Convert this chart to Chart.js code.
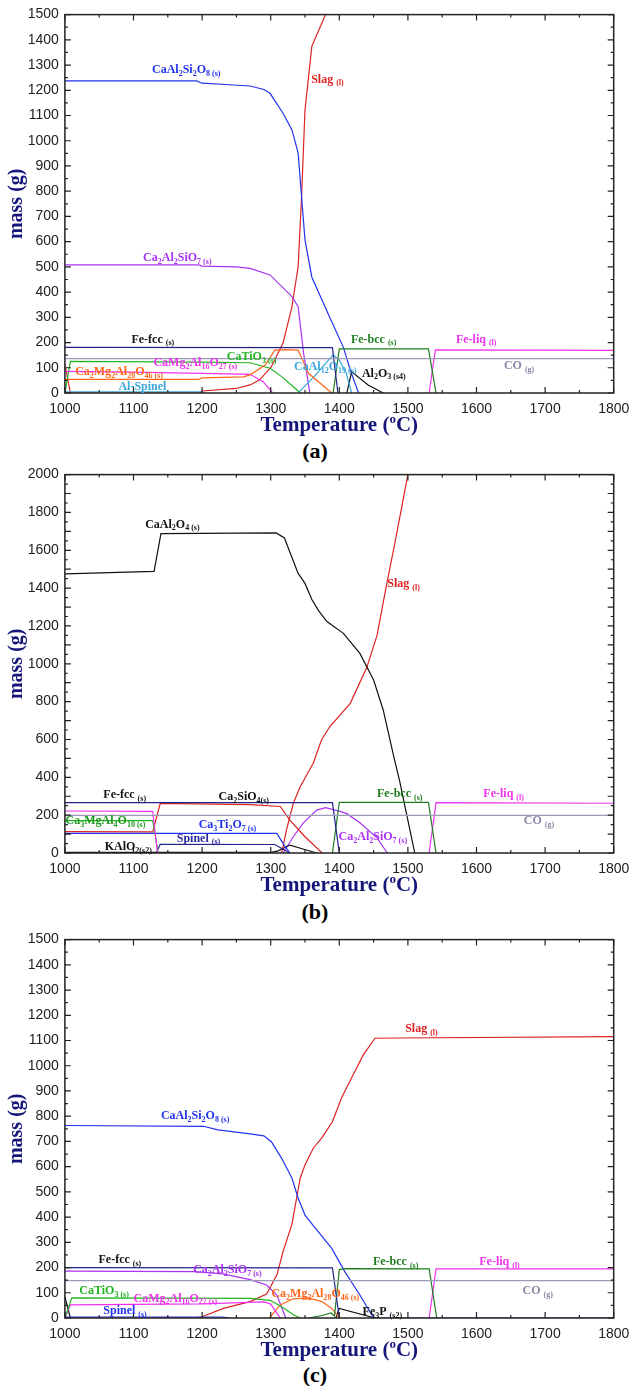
<!DOCTYPE html>
<html lang="en">
<head>
  <meta charset="UTF-8">
  <title>Phase mass vs temperature</title>
  <script src="https://cdn.jsdelivr.net/npm/chart.js"></script>
  <style>
    body {
      margin: 0;
      background: #fff;
      width: 630px;
      height: 1386px;
      position: relative;
      overflow: hidden;
    }
    .panel { position: absolute; left: 0; width: 630px; height: 436px; }
    .tag {
      position: absolute;
      left: 0;
      width: 630px;
      text-align: center;
      font: bold 22px "Liberation Serif", "Times New Roman", serif;
      color: #000;
    }
  </style>
</head>
<body>
  <div class="panel" style="top:0"><canvas id="chartA" width="630" height="436"></canvas></div>
  <div class="tag" style="top:438px">(a)</div>
  <div class="panel" style="top:460px"><canvas id="chartB" width="630" height="436"></canvas></div>
  <div class="tag" style="top:899px">(b)</div>
  <div class="panel" style="top:925px"><canvas id="chartC" width="630" height="436"></canvas></div>
  <div class="tag" style="top:1362px">(c)</div>

  <script>
    // temperature axis shared by all three panels
    const tempTicks = [1000, 1100, 1200, 1300, 1400, 1500, 1600, 1700, 1800];

    // ---- panel (a): [T (oC), mass (g)]
    const aCaAl2Si2O8 = [[1000,1237],[1192,1237],[1200,1228],[1240,1222],[1270,1217],[1290,1203],[1299,1188],[1318,1109],[1331,1043],[1340,951],[1350,606],[1360,459],[1386,300],[1406,181],[1416,91],[1428,0]];
    const aSlag = [[1000,115],[1008,0],[1195,0],[1200,8],[1250,18],[1270,32],[1284,52],[1301,104],[1318,198],[1331,342],[1340,501],[1345,778],[1350,1122],[1360,1375],[1380,1500],[1390,1560]];
    const aCa2Al2SiO7 = [[1000,508],[1195,508],[1200,503],[1250,500],[1270,494],[1299,468],[1331,382],[1340,342],[1348,157],[1357,0]];
    const aCaMg2Al16O27 = [[1000,86],[1100,83],[1200,78],[1270,74],[1289,45],[1303,0]];
    const aCa2Mg2Al28O46 = [[1000,54],[1195,54],[1200,60],[1260,64],[1270,72],[1292,111],[1306,170],[1321,172],[1340,170],[1355,78],[1389,0]];
    const aCaTiO3 = [[1000,0],[1008,125],[1200,122],[1270,120],[1299,98],[1316,65],[1333,25],[1343,0]];
    const aFeFcc = [[1000,181],[1390,180],[1398,0]];
    const aFeBcc = [[1391,0],[1400,175],[1530,175],[1541,0]];
    const aFeLiq = [[1531,0],[1540,171],[1800,169]];
    const aCO = [[1000,136],[1800,136]];
    const aCaAl12O19 = [[1340,0],[1365,70],[1391,151],[1400,130],[1410,80],[1418,0]];
    const aAl2O3 = [[1411,0],[1418,84],[1442,32],[1464,0]];
    const aAlSpinel = [[1000,5],[1198,5],[1203,0]];

    // ---- panel (b)
    const bCaAl2O4 = [[1000,1475],[1130,1488],[1140,1688],[1308,1692],[1320,1665],[1340,1478],[1350,1425],[1360,1340],[1370,1280],[1382,1223],[1406,1161],[1430,1055],[1450,914],[1464,756],[1480,500],[1488,380],[1510,0]];
    const bSlag = [[1316,0],[1323,122],[1333,263],[1343,350],[1362,474],[1374,597],[1386,667],[1416,791],[1440,980],[1455,1150],[1469,1420],[1480,1620],[1490,1810],[1500,2000]];
    const bCa2SiO4 = [[1000,113],[1128,112],[1139,262],[1270,256],[1314,246],[1328,174],[1350,86],[1375,0]];
    const bFeFcc = [[1000,266],[1390,266],[1400,0]];
    const bCa3MgAl4O10 = [[1000,171],[1128,171],[1136,0]];
    const bMagenta = [[1000,222],[1128,220],[1135,0]];
    const bCa3Ti2O7 = [[1000,104],[1309,104],[1318,51],[1328,0]];
    const bSpinel = [[1133,0],[1139,46],[1306,45],[1328,0]];
    const bKAlO2 = [[1000,3],[1300,3],[1310,10],[1328,42],[1352,16],[1367,0]];
    const bFeBcc = [[1390,0],[1400,268],[1530,268],[1541,0]];
    const bFeLiq = [[1531,0],[1541,266],[1800,263]];
    const bCO = [[1000,199],[1800,199]];
    const bCa2Al2SiO7 = [[1318,0],[1333,86],[1347,157],[1367,227],[1380,240],[1401,220],[1411,208],[1430,160],[1440,128],[1455,80],[1470,0]];

    // ---- panel (c)
    const cSlag = [[1000,0],[1190,0],[1200,5],[1231,38],[1270,65],[1294,95],[1309,170],[1318,263],[1331,372],[1343,554],[1350,607],[1362,673],[1374,712],[1390,778],[1403,871],[1420,963],[1435,1043],[1452,1109],[1488,1110],[1800,1115]];
    const cCaAl2Si2O8 = [[1000,763],[1202,760],[1223,746],[1270,730],[1290,722],[1301,699],[1316,633],[1331,554],[1340,475],[1350,408],[1365,356],[1389,276],[1408,184],[1430,91],[1450,0],[1800,0]];
    const cCa2Al2SiO7 = [[1000,186],[1190,184],[1230,175],[1270,152],[1294,131],[1309,91],[1322,0]];
    const cCaMg2Al16O27 = [[1000,0],[1008,52],[1200,56],[1290,64],[1300,55],[1314,0]];
    const cCaTiO3 = [[1000,0],[1010,80],[1270,78],[1299,70],[1316,45],[1333,13],[1343,0]];
    const cCa2Mg2Al28O46 = [[1298,0],[1314,52],[1333,76],[1355,80],[1374,66],[1389,38],[1400,0]];
    const cSpinel = [[1000,4],[1230,4],[1240,0]];
    const cFeFcc = [[1000,200],[1390,199],[1400,0]];
    const cFeBcc = [[1355,0],[1375,10],[1388,20],[1393,8],[1400,192],[1410,196],[1531,195],[1542,0]];
    const cFeLiq = [[1531,0],[1541,195],[1800,195]];
    const cCO = [[1000,148],[1800,148]];
    const cFe3P = [[1000,84],[1008,0],[1200,null],[1395,0],[1400,38],[1452,0]];

    const BLUE = '#2233ee', RED = '#dd2222', PURPLE = '#a933f0', MAGENTA = '#ee33ee',
          ORANGE = '#ff6619', GREEN = '#22b422', DKGREEN = '#1e7d1e', NAVY = '#23238c',
          GREY = '#9b9bb8', CYAN = '#3aa8dc', BLACK = '#111111', NAVYTXT = '#15157a';

    const seriesA = [
      [aCO, GREY], [aFeFcc, NAVY], [aFeBcc, DKGREEN], [aFeLiq, MAGENTA], [aAlSpinel, CYAN],
      [aCa2Mg2Al28O46, ORANGE], [aCaMg2Al16O27, MAGENTA], [aCaTiO3, GREEN], [aCaAl12O19, CYAN],
      [aAl2O3, BLACK], [aCa2Al2SiO7, PURPLE], [aCaAl2Si2O8, BLUE], [aSlag, RED]
    ];
    const seriesB = [
      [bCO, GREY], [bFeFcc, NAVY], [bFeBcc, DKGREEN], [bFeLiq, MAGENTA], [bMagenta, MAGENTA],
      [bCa3MgAl4O10, GREEN], [bCa3Ti2O7, BLUE], [bSpinel, NAVY], [bKAlO2, BLACK],
      [bCa2SiO4, RED], [bCa2Al2SiO7, PURPLE], [bCaAl2O4, BLACK], [bSlag, RED]
    ];
    const seriesC = [
      [cCO, GREY], [cFeFcc, NAVY], [cFeBcc, DKGREEN], [cFeLiq, MAGENTA], [cSpinel, BLUE],
      [cCaTiO3, GREEN], [cCaMg2Al16O27, MAGENTA], [cCa2Mg2Al28O46, ORANGE], [cFe3P, BLACK],
      [cCa2Al2SiO7, PURPLE], [cCaAl2Si2O8, BLUE], [cSlag, RED]
    ];

    // phase labels: text ("_" = subscript), anchor T, anchor mass, colour
    const labelsA = [
      ['CaAl_2Si_2O_{8 (s)}', 1127, 1267, BLUE],
      ['Slag _{(l)}', 1359, 1230, RED],
      ['Ca_2Al_2SiO_{7 (s)}', 1114, 523, PURPLE],
      ['Fe-fcc _{(s)}', 1097, 199, BLACK],
      ['Fe-bcc _{(s)}', 1417, 199, DKGREEN],
      ['Fe-liq _{(l)}', 1570, 199, MAGENTA],
      ['CO _{(g)}', 1640, 94, '#8888a8'],
      ['CaTiO_{3 (s)}', 1236, 131, GREEN],
      ['CaMg_2Al_{16}O_{27 (s)}', 1129, 107, MAGENTA],
      ['Ca_2Mg_2Al_{28}O_{46 (s)}', 1015, 71, ORANGE],
      ['Al-Spinel', 1078, 12, CYAN],
      ['CaAl_{12}O_{19 (s)}', 1334, 91, CYAN],
      ['Al_2O_{3 (s4)}', 1433, 65, BLACK]
    ];
    const labelsB = [
      ['CaAl_2O_{4 (s)}', 1117, 1720, BLACK],
      ['Slag _{(l)}', 1470, 1405, RED],
      ['Fe-fcc _{(s)}', 1056, 289, BLACK],
      ['Ca_2SiO_{4(s)}', 1224, 280, BLACK],
      ['Ca_3MgAl_4O_{10 (s)}', 1001, 153, '#1f9a1f'],
      ['Ca_3Ti_2O_{7 (s)}', 1195, 130, BLUE],
      ['Spinel _{(s)}', 1163, 60, '#2a2aa0'],
      ['KAlO_{2(s2)}', 1058, 16, BLACK],
      ['Fe-bcc _{(s)}', 1455, 294, DKGREEN],
      ['Fe-liq _{(l)}', 1610, 294, MAGENTA],
      ['CO _{(g)}', 1669, 153, '#8888a8'],
      ['Ca_2Al_2SiO_{7 (s)}', 1399, 69, PURPLE]
    ];
    const labelsC = [
      ['Slag _{(l)}', 1496, 1134, RED],
      ['CaAl_2Si_2O_{8 (s)}', 1140, 787, BLUE],
      ['Fe-fcc _{(s)}', 1049, 217, BLACK],
      ['Ca_2Al_2SiO_{7 (s)}', 1187, 177, PURPLE],
      ['Fe-bcc _{(s)}', 1449, 210, DKGREEN],
      ['Fe-liq _{(l)}', 1604, 210, MAGENTA],
      ['CO _{(g)}', 1667, 95, '#8888a8'],
      ['CaTiO_{3 (s)}', 1021, 95, GREEN],
      ['CaMg_2Al_{16}O_{27 (s)}', 1100, 65, MAGENTA],
      ['Spinel _{(s)}', 1056, 15, BLUE],
      ['Ca_2Mg_2Al_{28}O_{46 (s)}', 1301, 82, ORANGE],
      ['Fe_3P _{(s2)}', 1434, 12, BLACK]
    ];

    const SERIF = '"Liberation Serif", "Times New Roman", serif';

    // split "CaAl_2O_{4 (s)}" into [text, isSub] pieces
    function parts(str) {
      const out = [];
      let buf = '', i = 0;
      while (i < str.length) {
        if (str[i] === '_') {
          if (buf) { out.push([buf, false]); buf = ''; }
          if (str[i + 1] === '{') {
            const j = str.indexOf('}', i);
            out.push([str.slice(i + 2, j), true]);
            i = j + 1;
          } else {
            out.push([str[i + 1], true]);
            i += 2;
          }
        } else {
          buf += str[i];
          i++;
        }
      }
      if (buf) out.push([buf, false]);
      return out;
    }

    function richText(ctx, str, x, y, color, size) {
      let cx = x;
      ctx.fillStyle = color;
      ctx.textAlign = 'left';
      ctx.textBaseline = 'alphabetic';
      for (const [txt, sub] of parts(str)) {
        ctx.font = 'bold ' + (sub ? Math.round(size * 0.64) : size) + 'px ' + SERIF;
        ctx.fillText(txt, cx, sub ? y + size * 0.22 : y);
        cx += ctx.measureText(txt).width;
      }
    }

    // box with inward ticks, axis titles and phase labels
    function decorPlugin(yMax, labels) {
      return {
        id: 'decor',
        afterDatasetsDraw(chart) {
          const { ctx, chartArea: { left, right, top, bottom }, scales: { x, y } } = chart;
          ctx.save();
          ctx.strokeStyle = '#222';
          ctx.lineWidth = 1.5;
          ctx.strokeRect(left, top, right - left, bottom - top);
          ctx.lineWidth = 1.2;
          ctx.beginPath();
          for (let t = 1000; t <= 1800; t += 50) {
            const px = x.getPixelForValue(t);
            const len = t % 100 === 0 ? 6 : 3;
            ctx.moveTo(px, bottom); ctx.lineTo(px, bottom - len);
            ctx.moveTo(px, top); ctx.lineTo(px, top + len);
          }
          for (let m = 0; m <= yMax; m += 50) {
            const py = y.getPixelForValue(m);
            const len = m % 100 === 0 ? 6 : 3;
            ctx.moveTo(left, py); ctx.lineTo(left + len, py);
            ctx.moveTo(right, py); ctx.lineTo(right - len, py);
          }
          ctx.stroke();
          ctx.restore();
        },
        afterDraw(chart) {
          const { ctx, chartArea: { left, right, top, bottom }, scales: { x, y } } = chart;
          ctx.save();
          labels.forEach(([txt, t, m, col]) => {
            richText(ctx, txt, x.getPixelForValue(t), y.getPixelForValue(m), col, 12);
          });

          // x title with superscript o
          const big = 'bold 21px ' + SERIF, small = 'bold 13px ' + SERIF;
          ctx.fillStyle = NAVYTXT;
          ctx.textBaseline = 'alphabetic';
          ctx.font = big;
          const w1 = ctx.measureText('Temperature (').width;
          const w3 = ctx.measureText('C)').width;
          ctx.font = small;
          const w2 = ctx.measureText('o').width;
          let cx = (left + right) / 2 - (w1 + w2 + w3) / 2;
          const by = bottom + 38;
          ctx.font = big; ctx.fillText('Temperature (', cx, by); cx += w1;
          ctx.font = small; ctx.fillText('o', cx, by - 8); cx += w2;
          ctx.font = big; ctx.fillText('C)', cx, by);

          // y title
          ctx.translate(17, (top + bottom) / 2);
          ctx.rotate(-Math.PI / 2);
          ctx.textAlign = 'center';
          ctx.textBaseline = 'middle';
          ctx.font = 'bold 20px ' + SERIF;
          ctx.fillText('mass (g)', 0, 0);
          ctx.restore();
        }
      };
    }

    function makePanel(id, yMax, series, labels) {
      const datasets = series.map(([pts, color]) => ({
        data: pts.map(p => ({ x: p[0], y: p[1] })),
        borderColor: color,
        backgroundColor: color,
        borderWidth: 1.2,
        pointRadius: 0,
        tension: 0,
        spanGaps: false,
        fill: false
      }));
      const tickFont = { family: '"Liberation Sans", Arial, sans-serif', size: 14 };
      return new Chart(document.getElementById(id), {
        type: 'line',
        data: { datasets },
        options: {
          responsive: false,
          animation: false,
          devicePixelRatio: 1,
          layout: { padding: { left: 0, top: 14.6, right: 16.3, bottom: 0 } },
          plugins: { legend: { display: false }, tooltip: { enabled: false } },
          scales: {
            x: {
              type: 'linear', min: 1000, max: 1800,
              afterBuildTicks: s => { s.ticks = tempTicks.map(v => ({ value: v })); },
              ticks: { padding: 8, color: '#222', font: tickFont, maxRotation: 0, callback: v => String(v) },
              grid: { display: false, drawTicks: false },
              border: { display: false },
              afterFit: s => { s.height = 43; s.paddingLeft = 0; s.paddingRight = 0; }
            },
            y: {
              type: 'linear', min: 0, max: yMax,
              ticks: { stepSize: 100, padding: 6, color: '#222', font: tickFont, callback: v => String(v) },
              grid: { display: false, drawTicks: false },
              border: { display: false },
              afterFit: s => { s.width = 64.9; s.paddingTop = 0; s.paddingBottom = 0; }
            }
          }
        },
        plugins: [decorPlugin(yMax, labels)]
      });
    }

    makePanel('chartA', 1500, seriesA, labelsA);
    makePanel('chartB', 2000, seriesB, labelsB);
    makePanel('chartC', 1500, seriesC, labelsC);
  </script>
</body>
</html>
